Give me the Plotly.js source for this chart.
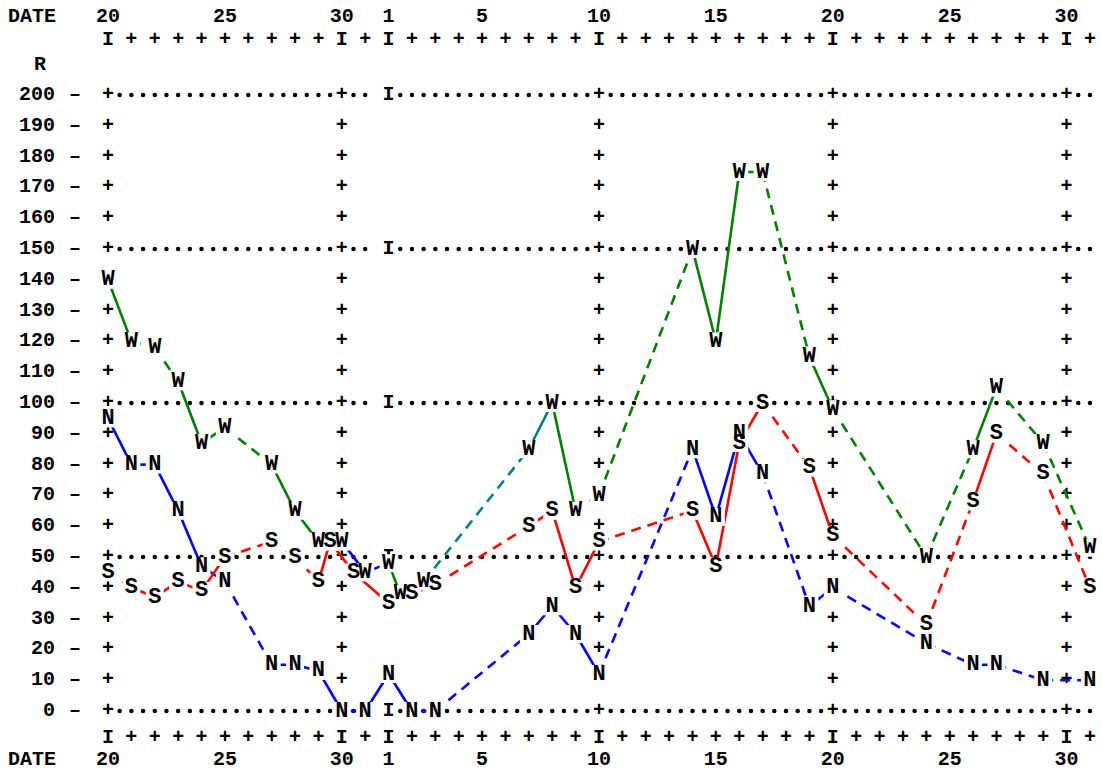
<!DOCTYPE html>
<html><head><meta charset="utf-8">
<script src="https://cdn.plot.ly/plotly-3.0.1.min.js"></script>
<style>html,body{margin:0;padding:0;background:#fff}</style>
</head><body><div id="chart" style="width:1102px;height:773px"></div>
<script>
// Day index: 0 = the 20th of the first month, 11 = its 31st, 12 = the 1st of the next month.
// Half-step indices are where the printer shifted a letter one character left to avoid a collision.
const dateTickIdx = [0, 5, 10, 12, 16, 21, 26, 31, 36, 41];
const dateTickLabels = ['20', '25', '30', '1', '5', '10', '15', '20', '25', '30'];
const rTicks = [0, 10, 20, 30, 40, 50, 60, 70, 80, 90, 100, 110, 120, 130, 140, 150, 160, 170, 180, 190, 200];
const rDottedRows = [0, 50, 100, 150, 200];

const wDays   = [0, 1, 2, 3, 4, 5, 7, 8, 9, 10, 11, 12, 12.5, 13.5, 18, 19, 20, 21, 25, 26, 27, 28, 30, 31, 35, 37, 38, 40, 42];
const wValues = [140, 120, 118, 107, 87, 92, 80, 65, 55, 55, 45, 48, 38, 42, 85, 100, 65, 70, 150, 120, 175, 175, 115, 98, 50, 85, 105, 87, 53];
const wSeg    = ['s','d','d','s','s','d','s','s','s','s','s','s','d','d','s','s','d','d','s','s','s','d','s','d','d','s','d','d'];
const wSegColor = [null,null,null,null,null,null,null,null,null,'#0000ff','#0000ff',null,null,'#008080','#008080',null,null,null,null,null,null,null,null,null,null,null,null,null];

const sDays   = [0, 1, 2, 3, 4, 5, 7, 8, 9, 9.5, 10.5, 12, 13, 14, 18, 19, 20, 21, 25, 26, 27, 28, 30, 31, 35, 37, 38, 40, 42];
const sValues = [45, 40, 37, 42, 39, 50, 55, 50, 42, 55, 45, 35, 38, 41, 60, 65, 40, 55, 65, 47, 87, 100, 79, 57, 28, 68, 90, 77, 40];
const sSeg    = ['d','s','s','s','s','d','d','d','s','s','s','s','s','d','s','s','s','d','s','s','s','d','s','d','d','s','d','d'];

const nDays   = [0, 1, 2, 3, 4, 5, 7, 8, 9, 10, 11, 12, 13, 14, 18, 19, 20, 21, 25, 26, 27, 28, 30, 31, 35, 37, 38, 40, 42];
const nValues = [95, 80, 80, 65, 47, 42, 15, 15, 13, 0, 0, 12, 0, 0, 25, 34, 25, 12, 85, 63, 90, 77, 34, 40, 22, 15, 15, 10, 10];
const nSeg    = ['s','s','s','s','s','d','s','s','s','s','s','s','s','d','s','s','s','d','s','s','s','d','s','d','d','s','d','d'];

const series = [
  {letter: 'W', color: '#008000', days: wDays, vals: wValues, seg: wSeg, segColor: wSegColor},
  {letter: 'S', color: '#ff0000', days: sDays, vals: sValues, seg: sSeg, segColor: null},
  {letter: 'N', color: '#0000ff', days: nDays, vals: nValues, seg: nSeg, segColor: null}
];

// ---- page geometry (printer-style chart drawn in one plotting area) ----
const X0 = 108, DX = 23.38, Y0 = 711, DY = 3.08, W = 1102, H = 773;
const xFromPx = px => (px - X0) / DX;
const yFromPx = py => (Y0 - py) / DY;
const FONT = 'Liberation Mono, DejaVu Sans Mono, monospace';
const LETTER_FONT = {family: FONT, size: 22, color: '#000', weight: 'bold'};
const LABEL_FONT = {family: FONT, size: 20, color: '#000', weight: 'bold'};
const TICK_FONT = {family: FONT, size: 20, color: '#000', weight: 'bold'};

const columnIdx = [0, 10, 21, 31, 41];
const monthIdx = 12;
const lastIdx = 42;

const traces = [];

// dotted rows
const dotX = [], dotY = [];
rDottedRows.forEach(r => {
  for (let k = 1; k <= lastIdx * 2; k++) {
    const i = k / 2;
    if (columnIdx.includes(i) || i === monthIdx || i === 11.5) continue;
    dotX.push(i); dotY.push(r);
  }
});
traces.push({type: 'scatter', mode: 'markers', x: dotX, y: dotY, hoverinfo: 'skip',
  marker: {symbol: 'circle', size: 4.5, color: '#000'}, cliponaxis: false});

// "+" marks on column lines and "I" on month line
const plusX = [], plusY = [], plusT = [];
rTicks.forEach(r => {
  columnIdx.forEach(i => { plusX.push(i); plusY.push(r); plusT.push('+'); });
  if (rDottedRows.includes(r)) { plusX.push(monthIdx); plusY.push(r); plusT.push('I'); }
});
traces.push({type: 'scatter', mode: 'text', x: plusX, y: plusY, text: plusT, textposition: 'middle center',
  textfont: TICK_FONT, hoverinfo: 'skip', cliponaxis: false});

// top & bottom tick rows
const tickRowX = [], tickRowT = [];
for (let i = 0; i <= lastIdx; i++) {
  tickRowX.push(i);
  tickRowT.push(columnIdx.includes(i) || i === monthIdx ? 'I' : '+');
}
[yFromPx(40), yFromPx(738)].forEach(yy => {
  traces.push({type: 'scatter', mode: 'text', x: tickRowX, y: tickRowX.map(() => yy), text: tickRowT,
    textposition: 'middle center', textfont: TICK_FONT, hoverinfo: 'skip', cliponaxis: false});
});

// date labels top & bottom
[yFromPx(17), yFromPx(760)].forEach(yy => {
  traces.push({type: 'scatter', mode: 'text', x: dateTickIdx, y: dateTickIdx.map(() => yy), text: dateTickLabels,
    textposition: 'middle center', textfont: LABEL_FONT, hoverinfo: 'skip', cliponaxis: false});
  traces.push({type: 'scatter', mode: 'text', x: [xFromPx(32)], y: [yy], text: ['DATE'],
    textposition: 'middle center', textfont: LABEL_FONT, hoverinfo: 'skip', cliponaxis: false});
});
// "R" axis name
traces.push({type: 'scatter', mode: 'text', x: [xFromPx(40)], y: [yFromPx(65)], text: ['R'],
  textposition: 'middle center', textfont: LABEL_FONT, hoverinfo: 'skip', cliponaxis: false});
// R tick labels with dash
traces.push({type: 'scatter', mode: 'text', x: rTicks.map(() => xFromPx(55)), y: rTicks, text: rTicks.map(String),
  textposition: 'middle left', textfont: LABEL_FONT, hoverinfo: 'skip', cliponaxis: false});
traces.push({type: 'scatter', mode: 'text', x: rTicks.map(() => xFromPx(75)), y: rTicks, text: rTicks.map(() => '–'),
  textposition: 'middle center', textfont: LABEL_FONT, hoverinfo: 'skip', cliponaxis: false});

// connecting segments, grouped by colour and style
const groups = {};
series.forEach(s => {
  for (let k = 0; k < s.days.length - 1; k++) {
    const col = (s.segColor && s.segColor[k]) || s.color;
    const st = s.seg[k];
    const key = col + '|' + st;
    if (!groups[key]) groups[key] = {x: [], y: [], color: col, st: st};
    groups[key].x.push(s.days[k], s.days[k + 1], null);
    groups[key].y.push(s.vals[k], s.vals[k + 1], null);
  }
});
Object.values(groups).forEach(g => {
  traces.push({type: 'scatter', mode: 'lines', x: g.x, y: g.y, hoverinfo: 'skip', connectgaps: false,
    line: {color: g.color, width: 2.6, dash: g.st === 'd' ? '10px,7px' : 'solid'}, cliponaxis: false});
});

// white pads behind letters (line gaps), then letters
const allX = [], allY = [], allT = [];
series.forEach(s => s.days.forEach((d, k) => { allX.push(d); allY.push(s.vals[k]); allT.push(s.letter); }));
traces.push({type: 'scatter', mode: 'markers', x: allX, y: allY, hoverinfo: 'skip',
  marker: {symbol: 'square', size: 18, color: '#fff', line: {width: 0}}, cliponaxis: false});
traces.push({type: 'scatter', mode: 'text', x: allX, y: allY, text: allT, textposition: 'middle center',
  textfont: LETTER_FONT, hoverinfo: 'skip', cliponaxis: false});

const layout = {
  width: W, height: H, margin: {l: 0, r: 0, t: 0, b: 0},
  paper_bgcolor: '#fff', plot_bgcolor: '#fff', showlegend: false,
  xaxis: {range: [xFromPx(0), xFromPx(W)], visible: false, fixedrange: true},
  yaxis: {range: [yFromPx(H), yFromPx(0)], visible: false, fixedrange: true}
};
Plotly.newPlot('chart', traces, layout, {staticPlot: true, displayModeBar: false});
</script>
</body></html>
